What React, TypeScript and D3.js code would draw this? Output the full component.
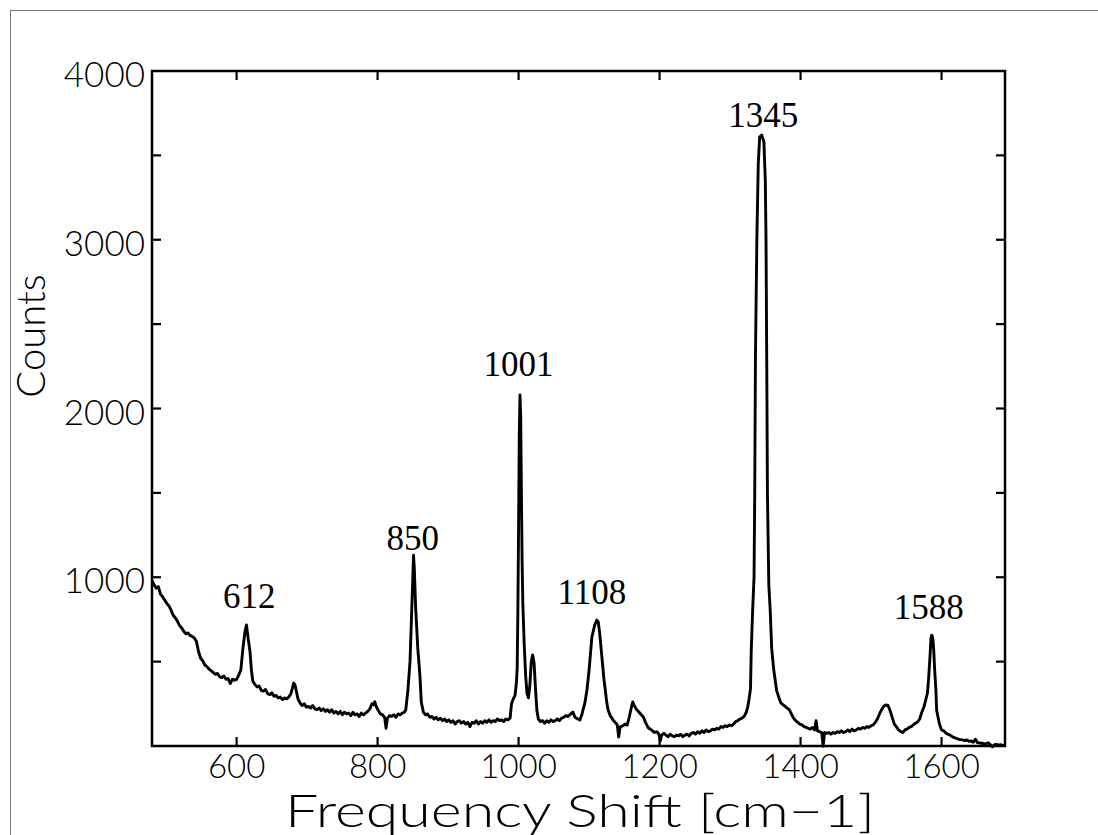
import React, { useEffect, useRef } from "react";
import * as d3 from "d3";

const xTicks = [600, 800, 1000, 1200, 1400, 1600];
const yMinorTicks = [500, 1000, 1500, 2000, 2500, 3000, 3500];
const yLabels = [1000, 2000, 3000, 4000];

const peakLabels: { text: string; shift: number; counts: number }[] = [
  { text: "612", shift: 618, counts: 820 },
  { text: "850", shift: 850, counts: 1160 },
  { text: "1001", shift: 1000, counts: 2190 },
  { text: "1108", shift: 1104, counts: 840 },
  { text: "1345", shift: 1347, counts: 3670 },
  { text: "1588", shift: 1582, counts: 750 },
];

// [frequency shift (cm-1), counts]
const spectrum: [number, number][] = [
  [480, 980], [483, 955], [486, 935], [489, 945], [492, 900], [495, 885], [498, 865], [501, 845],
  [504, 830], [507, 805], [510, 775], [513, 760], [516, 740], [519, 715], [522, 700], [525, 680],
  [528, 665], [531, 670], [534, 655], [537, 650], [540, 640], [543, 620], [546, 560], [549, 520],
  [552, 505], [555, 480], [558, 470], [561, 455], [564, 445], [567, 435], [570, 425], [573, 430],
  [576, 410], [579, 405], [582, 415], [585, 395], [588, 400], [591, 370], [594, 395], [597, 390],
  [600, 395], [603, 420], [606, 450], [609, 580], [612, 680], [614, 717], [616, 650], [619, 560],
  [621, 450], [623, 385], [626, 365], [629, 350], [632, 355], [635, 330], [638, 325], [641, 335],
  [644, 310], [647, 305], [650, 315], [653, 295], [656, 300], [659, 285], [662, 290], [665, 275],
  [668, 285], [671, 280], [674, 290], [677, 310], [679, 340], [681, 373], [683, 360], [685, 320],
  [687, 280], [690, 255], [693, 240], [696, 250], [699, 230], [702, 235], [705, 225], [708, 240],
  [711, 220], [714, 215], [717, 225], [720, 210], [723, 220], [726, 205], [729, 215], [732, 200],
  [735, 215], [738, 195], [741, 205], [744, 190], [747, 205], [750, 185], [753, 200], [756, 190],
  [759, 195], [762, 180], [765, 200], [768, 185], [771, 190], [774, 175], [777, 195], [780, 185],
  [783, 195], [786, 205], [789, 220], [792, 250], [794, 245], [796, 262], [798, 235], [801, 210],
  [804, 190], [807, 185], [810, 170], [812, 105], [814, 165], [817, 180], [820, 175], [823, 185],
  [826, 170], [829, 190], [832, 185], [835, 195], [838, 200], [840, 215], [843, 330], [846, 500],
  [848, 750], [850, 1000], [851, 1130], [852, 1060], [854, 820], [857, 580], [860, 420], [862, 260],
  [865, 200], [868, 185], [871, 190], [874, 170], [877, 175], [880, 160], [883, 170], [886, 155],
  [889, 165], [892, 150], [895, 160], [898, 145], [901, 155], [904, 140], [907, 150], [910, 130],
  [913, 145], [916, 150], [919, 135], [922, 145], [925, 130], [928, 140], [931, 115], [934, 140],
  [937, 135], [940, 150], [943, 130], [946, 145], [949, 135], [952, 150], [955, 140], [958, 155],
  [961, 140], [964, 150], [967, 145], [970, 160], [973, 150], [976, 155], [979, 145], [982, 160],
  [985, 155], [988, 165], [990, 250], [992, 275], [995, 300], [997, 380], [998, 460], [999, 800],
  [1000, 1300], [1001, 1850], [1002, 2080], [1003, 1950], [1004, 1500], [1005, 1100], [1006, 850],
  [1008, 600], [1010, 420], [1012, 310], [1014, 285], [1016, 360], [1018, 500], [1020, 540],
  [1022, 490], [1024, 340], [1026, 210], [1028, 160], [1031, 145], [1034, 150], [1037, 135],
  [1040, 150], [1043, 140], [1046, 155], [1049, 145], [1052, 150], [1055, 160], [1058, 150],
  [1061, 165], [1064, 170], [1067, 180], [1070, 175], [1074, 190], [1077, 201], [1080, 170],
  [1084, 160], [1087, 154], [1090, 190], [1094, 255], [1097, 332], [1100, 450], [1104, 646],
  [1108, 717], [1111, 746], [1113, 735], [1115, 670], [1117, 580], [1119, 491], [1121, 400],
  [1123, 332], [1125, 260], [1127, 213], [1130, 180], [1134, 154], [1137, 140], [1140, 125],
  [1142, 53], [1144, 113], [1148, 120], [1151, 130], [1154, 124], [1157, 170], [1160, 230],
  [1162, 261], [1164, 240], [1166, 225], [1168, 213], [1171, 200], [1174, 185], [1177, 172],
  [1180, 140], [1184, 107], [1187, 100], [1190, 90], [1193, 80], [1196, 85], [1199, 70], [1201, 30],
  [1203, 65], [1206, 75], [1209, 65], [1212, 55], [1215, 70], [1218, 60], [1221, 55], [1224, 65],
  [1227, 60], [1230, 70], [1233, 55], [1236, 65], [1239, 70], [1242, 60], [1245, 75], [1248, 80],
  [1251, 70], [1254, 85], [1257, 75], [1260, 90], [1263, 80], [1266, 95], [1269, 85], [1272, 90],
  [1275, 100], [1278, 95], [1281, 105], [1284, 100], [1287, 115], [1290, 110], [1293, 120],
  [1296, 115], [1299, 125], [1302, 120], [1305, 130], [1308, 145], [1311, 150], [1314, 160],
  [1317, 165], [1320, 175], [1323, 200], [1325, 230], [1327, 280], [1329, 340], [1330, 560],
  [1332, 800], [1334, 1000], [1335, 1500], [1336, 2300], [1338, 3000], [1340, 3450], [1342, 3610],
  [1345, 3620], [1348, 3580], [1350, 3350], [1351, 3000], [1352, 2300], [1353, 1500], [1355, 950],
  [1357, 800], [1359, 580], [1362, 450], [1366, 330], [1369, 290], [1372, 255], [1375, 245],
  [1378, 235], [1381, 225], [1384, 215], [1387, 190], [1390, 165], [1393, 150], [1396, 140],
  [1399, 130], [1402, 125], [1405, 115], [1408, 110], [1411, 105], [1414, 100], [1417, 110],
  [1420, 95], [1422, 150], [1424, 90], [1427, 85], [1430, 80], [1432, 0], [1434, 80], [1437, 75],
  [1440, 80], [1443, 70], [1446, 80], [1449, 75], [1452, 85], [1455, 80], [1458, 90], [1461, 80],
  [1464, 85], [1467, 95], [1470, 85], [1473, 100], [1476, 90], [1479, 95], [1482, 105], [1485, 100],
  [1488, 110], [1491, 105], [1494, 115], [1497, 110], [1500, 120], [1503, 125], [1506, 140],
  [1509, 160], [1512, 190], [1515, 215], [1518, 235], [1521, 243], [1524, 240], [1527, 210],
  [1530, 170], [1533, 130], [1536, 113], [1539, 95], [1542, 85], [1545, 80], [1548, 95], [1551, 100],
  [1554, 110], [1557, 115], [1560, 125], [1563, 135], [1566, 142], [1569, 160], [1572, 200],
  [1575, 231], [1578, 280], [1580, 314], [1582, 420], [1584, 560], [1585, 640], [1586, 657],
  [1587, 650], [1588, 620], [1589, 560], [1590, 468], [1592, 330], [1593, 213], [1595, 170],
  [1597, 130], [1600, 95], [1603, 90], [1606, 77], [1609, 70], [1612, 65], [1615, 55], [1618, 50],
  [1621, 45], [1624, 40], [1627, 38], [1630, 36], [1633, 32], [1636, 36], [1639, 28], [1642, 30],
  [1645, 22], [1648, 40], [1651, 20], [1654, 18], [1657, 16], [1660, 14], [1663, 12], [1666, 20],
  [1669, 10], [1672, -5], [1675, 8], [1678, 10], [1681, 5], [1684, 8], [1687, 3], [1690, 5],
];

const W = 1098;
const H = 835;
const plot = { left: 152, right: 1005, top: 71, bottom: 746 };

export default function App() {
  const ref = useRef<SVGSVGElement>(null);

  useEffect(() => {
    const svg = d3.select(ref.current);
    svg.selectAll("*").remove();

    const x = d3.scaleLinear().domain([480, 1690]).range([plot.left, plot.right]);
    const y = d3.scaleLinear().domain([0, 4000]).range([plot.bottom, plot.top]);

    const sans = "Lato, 'DejaVu Sans', sans-serif";
    const serif = "'Liberation Serif', 'DejaVu Serif', serif";

    svg.append("rect").attr("x", 0).attr("y", 0).attr("width", W).attr("height", H).attr("fill", "#fff");

    // outer frame
    svg.append("rect")
      .attr("x", 10.5).attr("y", 10.5).attr("width", W + 20).attr("height", H + 20)
      .attr("fill", "none").attr("stroke", "#777").attr("stroke-width", 1);

    // spectrum
    const line = d3.line<[number, number]>()
      .x((d) => x(d[0]))
      .y((d) => y(d[1]));

    const clipId = "plotclip";
    svg.append("clipPath").attr("id", clipId)
      .append("rect")
      .attr("x", plot.left).attr("y", plot.top - 5)
      .attr("width", plot.right - plot.left).attr("height", plot.bottom - plot.top + 8);

    svg.append("path")
      .datum(spectrum)
      .attr("d", line)
      .attr("fill", "none")
      .attr("stroke", "#000")
      .attr("stroke-width", 2.9)
      .attr("stroke-linejoin", "round")
      .attr("clip-path", `url(#${clipId})`);

    // plot frame
    svg.append("rect")
      .attr("x", plot.left).attr("y", plot.top)
      .attr("width", plot.right - plot.left).attr("height", plot.bottom - plot.top)
      .attr("fill", "none").attr("stroke", "#000").attr("stroke-width", 2.5);

    const tickLen = 9;
    const g = svg.append("g").attr("stroke", "#000").attr("stroke-width", 2.2);
    xTicks.forEach((t) => {
      g.append("line").attr("x1", x(t)).attr("x2", x(t)).attr("y1", plot.bottom).attr("y2", plot.bottom - tickLen);
      g.append("line").attr("x1", x(t)).attr("x2", x(t)).attr("y1", plot.top).attr("y2", plot.top + tickLen);
    });
    yMinorTicks.forEach((t) => {
      g.append("line").attr("x1", plot.left).attr("x2", plot.left + tickLen).attr("y1", y(t)).attr("y2", y(t));
      g.append("line").attr("x1", plot.right).attr("x2", plot.right - tickLen).attr("y1", y(t)).attr("y2", y(t));
    });

    // tick labels
    xTicks.forEach((t) => {
      svg.append("text")
        .attr("x", x(t)).attr("y", 778)
        .attr("text-anchor", "middle")
        .attr("font-family", sans).attr("font-weight", 300)
        .attr("font-size", 33).attr("fill", "#000")
        .text(String(t));
    });
    yLabels.forEach((t) => {
      svg.append("text")
        .attr("x", 145).attr("y", y(t) + 16)
        .attr("text-anchor", "end")
        .attr("font-family", sans).attr("font-weight", 300)
        .attr("font-size", 35).attr("fill", "#000")
        .text(String(t));
    });

    // axis titles
    svg.append("text")
      .attr("x", 580).attr("y", 827)
      .attr("text-anchor", "middle")
      .attr("font-family", sans).attr("font-weight", 300)
      .attr("font-size", 46).attr("fill", "#000")
      .attr("textLength", 590).attr("lengthAdjust", "spacingAndGlyphs")
      .text("Frequency Shift [cm\u22121]");

    svg.append("text")
      .attr("transform", `translate(45, 336) rotate(-90)`)
      .attr("text-anchor", "middle")
      .attr("font-family", sans).attr("font-weight", 300)
      .attr("font-size", 40).attr("fill", "#000")
      .text("Counts");

    // peak labels
    peakLabels.forEach((p) => {
      svg.append("text")
        .attr("x", x(p.shift)).attr("y", y(p.counts))
        .attr("text-anchor", "middle")
        .attr("font-family", serif)
        .attr("font-size", 35).attr("fill", "#000")
        .text(p.text);
    });
  }, []);

  return (
    <svg
      ref={ref}
      width={W}
      height={H}
      style={{ position: "absolute", left: 0, top: 0, display: "block" }}
    />
  );
}
